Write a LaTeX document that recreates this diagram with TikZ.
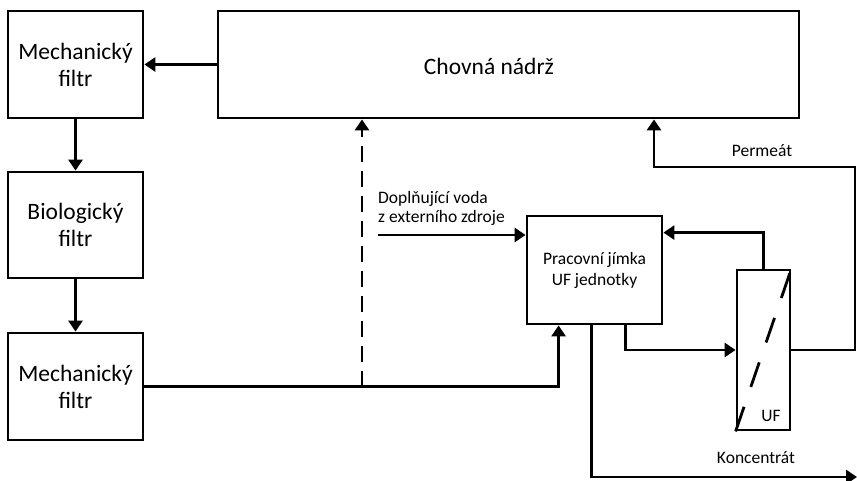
\documentclass[tikz,border=0pt]{standalone}
\usepackage{fontspec}
\setmainfont{Carlito}
\usetikzlibrary{arrows.meta,calc}
\begin{document}
\begin{tikzpicture}[x=1pt,y=-1pt,
  box/.style={draw, line width=2.8pt, align=center, inner sep=0pt, font=\fontsize{23.5}{27}\selectfont},
  smallbox/.style={box, font=\fontsize{17.5}{21}\selectfont},
  lbl/.style={font=\fontsize{17.5}{19}\selectfont, inner sep=0pt},
  arr/.style={-{Triangle[length=11pt,width=14pt]}},
  flow/.style={line width=2.8pt}]
\useasboundingbox (0,0) rectangle (857,481);

% process units
\node[box, minimum width=135pt, minimum height=107pt] (mf1) at (75.5,64.5) {Mechanický\\filtr};
\node[box, minimum width=581pt, minimum height=107pt] (tank) at (508.5,64.5) {};
\node[box, draw=none] (tanklbl) at (489,66) {Chovná nádrž};
\node[box, minimum width=135pt, minimum height=106pt] (bio) at (75.5,225) {Biologický\\filtr};
\node[box, minimum width=135pt, minimum height=107pt] (mf2) at (75.5,386.5) {Mechanický\\filtr};
\node[smallbox, minimum width=135pt, minimum height=108pt] (pj) at (594.5,270) {Pracovní jímka\\UF jednotky};
\node[draw, line width=2.8pt, minimum width=53pt, minimum height=160pt, inner sep=0pt] (uf) at (763.5,350) {};
\draw[line width=2.8pt, dash pattern=on 26pt off 21pt] (uf.south west) -- (uf.north east);
\node[lbl] (uflbl) at (771,416) {UF};

% helper points
\coordinate (dash0) at (362,387);
\coordinate (water0) at (378,235);
\coordinate (permR) at (855,167);
\coordinate (permL) at (654,167);
\coordinate (concEnd) at (857,477);

% main loop
\draw[flow,arr] (tank.west) -- (mf1.east);
\draw[flow,arr] (mf1.south) -- (bio.north);
\draw[flow,arr] (bio.south) -- (mf2.north);
\draw[flow,arr] (mf2.east) -| ($(pj.south west)+(33,0)$);

% make-up water
\draw[flow,arr,dash pattern=on 16pt off 9pt] (dash0) -- (dash0 |- tank.south);
\draw[flow,arr] (water0) -- (water0 -| pj.west);
\node[lbl, anchor=south west, align=left] (waterlbl) at (378,226) {Doplňující voda\\z externího zdroje};

% UF loop
\draw[flow,arr] ($(pj.south west)+(100,0)$) |- (uf.west);
\draw[flow,arr] (uf.north) |- ($(pj.north east)+(0,18)$);
\draw[flow,arr] (uf.east) -| (permR) -- (permL) -- (permL |- tank.south);
\node[lbl] (permlbl) at (762,151) {Permeát};

% concentrate
\draw[flow,arr] ($(pj.south west)+(66,0)$) |- (concEnd);
\node[lbl] (conclbl) at (756,458) {Koncentrát};
\end{tikzpicture}
\end{document}
